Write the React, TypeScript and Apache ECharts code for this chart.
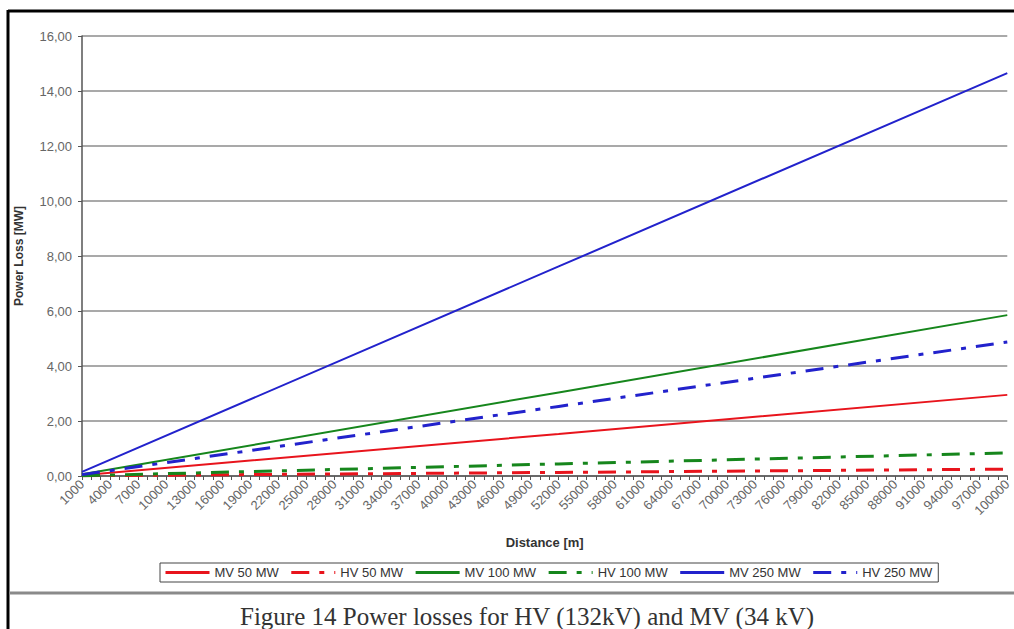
import React, { useEffect, useRef } from "react";
import * as echarts from "echarts";

const categories: string[] = [
  "1000","2000","3000","4000","5000","6000","7000","8000","9000","10000",
  "11000","12000","13000","14000","15000","16000","17000","18000","19000","20000",
  "21000","22000","23000","24000","25000","26000","27000","28000","29000","30000",
  "31000","32000","33000","34000","35000","36000","37000","38000","39000","40000",
  "41000","42000","43000","44000","45000","46000","47000","48000","49000","50000",
  "51000","52000","53000","54000","55000","56000","57000","58000","59000","60000",
  "61000","62000","63000","64000","65000","66000","67000","68000","69000","70000",
  "71000","72000","73000","74000","75000","76000","77000","78000","79000","80000",
  "81000","82000","83000","84000","85000","86000","87000","88000","89000","90000",
  "91000","92000","93000","94000","95000","96000","97000","98000","99000","100000",
];

// Points (lines are straight)
const readAt: string[] = ["1000", "52000", "100000"];
const mv50: number[] = [0.03, 1.53, 2.95];
const hv50: number[] = [0.01, 0.13, 0.25];
const mv100: number[] = [0.06, 3.04, 5.85];
const hv100: number[] = [0.01, 0.44, 0.84];
const mv250: number[] = [0.15, 7.62, 14.65];
const hv250: number[] = [0.05, 2.53, 4.87];

const yTicks = { min: 0, max: 16, interval: 2 };
const caption = "Figure 14 Power losses for HV (132kV) and MV (34 kV)";

const RED = "#e8141c";
const GREEN = "#16861c";
const BLUE = "#2222cc";
const DASHDOT = [18, 10, 5, 10];

function pts(vals: number[]) {
  return readAt.map((c, i) => [c, vals[i]]);
}

export default function App() {
  const ref = useRef<HTMLDivElement>(null);
  useEffect(() => {
    if (!ref.current) return;
    const chart = echarts.init(ref.current, undefined, { renderer: "svg" });
    const mk = (name: string, vals: number[], color: string, dashed: boolean) => ({
      name,
      type: "line",
      data: pts(vals),
      symbol: "none",
      lineStyle: { color, width: dashed ? 3 : 2, type: dashed ? DASHDOT : "solid" },
      itemStyle: { color },
    });
    chart.setOption({
      animation: false,
      backgroundColor: "#ffffff",
      textStyle: { fontFamily: "Liberation Sans, Arial, sans-serif" },
      grid: { left: 82, right: 2, top: 36, bottom: 153, containLabel: false },
      legend: {
        left: 160,
        top: 563,
        orient: "horizontal",
        borderColor: "#444",
        borderWidth: 1,
        padding: [3, 6, 3, 4],
        itemWidth: 44,
        itemHeight: 8,
        itemGap: 11,
        itemStyle: { opacity: 0 },
        lineStyle: { width: 3 },
        textStyle: { fontSize: 13, color: "#333", fontFamily: "Liberation Sans, Arial, sans-serif" },
        data: ["MV 50 MW", "HV 50 MW", "MV 100 MW", "HV 100 MW", "MV 250 MW", "HV 250 MW"],
      },
      xAxis: {
        type: "category",
        data: categories,
        boundaryGap: false,
        name: "Distance [m]",
        nameLocation: "middle",
        nameGap: 60,
        nameTextStyle: { fontSize: 13, fontWeight: "bold", color: "#333" },
        axisLine: { lineStyle: { color: "#555", width: 1.5 } },
        axisTick: { interval: 0, length: 4, lineStyle: { color: "#555" } },
        axisLabel: { interval: 2, rotate: 45, fontSize: 13, color: "#666", margin: 6 },
        splitLine: { show: false },
      },
      yAxis: {
        type: "value",
        min: yTicks.min,
        max: yTicks.max,
        interval: yTicks.interval,
        name: "Power Loss [MW]",
        nameLocation: "middle",
        nameGap: 57,
        nameRotate: 90,
        nameTextStyle: { fontSize: 12, fontWeight: "bold", color: "#333" },
        axisLine: { show: true, lineStyle: { color: "#555", width: 1.5 } },
        axisTick: { show: true, length: 4, lineStyle: { color: "#555" } },
        axisLabel: {
          fontSize: 13,
          color: "#666",
          margin: 10,
          formatter: (v: number) => v.toFixed(2).replace(".", ","),
        },
        splitLine: { lineStyle: { color: "#8c8c8c", width: 1.5 } },
      },
      graphic: [
        { type: "line", shape: { x1: 8, y1: 11, x2: 1014, y2: 11 }, style: { stroke: "#000", lineWidth: 3 } },
        { type: "line", shape: { x1: 8, y1: 10, x2: 8, y2: 629 }, style: { stroke: "#000", lineWidth: 3 } },
        { type: "line", shape: { x1: 9, y1: 593, x2: 1014, y2: 593 }, style: { stroke: "#8a8a8a", lineWidth: 3 } },
        {
          type: "text",
          x: 527,
          y: 616,
          style: {
            text: caption,
            fill: "#333",
            font: "25px 'Liberation Serif', 'DejaVu Serif', serif",
            textAlign: "center",
            textVerticalAlign: "middle",
          },
        },
      ],
      series: [
        mk("MV 50 MW", mv50, RED, false),
        mk("HV 50 MW", hv50, RED, true),
        mk("MV 100 MW", mv100, GREEN, false),
        mk("HV 100 MW", hv100, GREEN, true),
        mk("MV 250 MW", mv250, BLUE, false),
        mk("HV 250 MW", hv250, BLUE, true),
      ],
    });
    return () => chart.dispose();
  }, []);
  return (
    <div
      ref={ref}
      style={{ position: "absolute", left: 0, top: 0, width: 1014, height: 629 }}
    />
  );
}
